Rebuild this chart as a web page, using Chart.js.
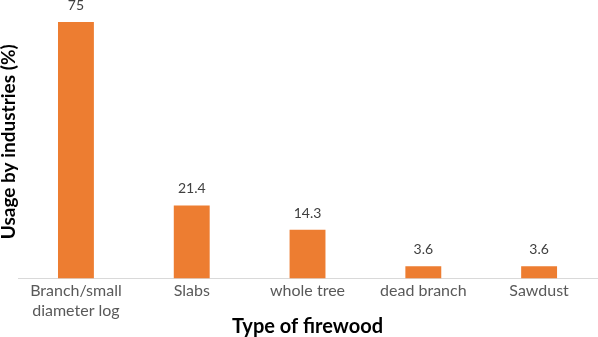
<!DOCTYPE html>
<html>
<head>
<meta charset="utf-8">
<script src="https://cdn.jsdelivr.net/npm/chart.js@4"></script>
<style>
  html, body { margin: 0; padding: 0; background: #fff; }
  #wrap { width: 598px; height: 337px; }
</style>
</head>
<body>
<div id="wrap"><canvas id="grafica"></canvas></div>
<script>
const tipos = [["Branch/small", "diameter log"], "Slabs", "whole tree", "dead branch", "Sawdust"];
const uso = [75, 21.4, 14.3, 3.6, 3.6];
const etiquetasValor = ["75", "21.4", "14.3", "3.6", "3.6"];

// dibuja el valor encima de cada barra
const valoresEncima = {
    id: "valoresEncima",
    afterDatasetsDraw(chart) {
        const ctx = chart.ctx;
        const meta = chart.getDatasetMeta(0);
        ctx.save();
        ctx.font = "14px Lato";
        ctx.fillStyle = "#404040";
        ctx.textAlign = "center";
        ctx.textBaseline = "alphabetic";
        meta.data.forEach((barra, i) => {
            ctx.fillText(etiquetasValor[i], barra.x, barra.y - 12);
        });
        ctx.restore();
    }
};

const $grafica = document.querySelector("#grafica");

new Chart($grafica, {
    type: "bar",
    data: {
        labels: tipos,
        datasets: [{
            label: "Usage by industries (%)",
            data: uso,
            backgroundColor: "#ED7D31",
            barPercentage: 0.31,
            categoryPercentage: 1
        }]
    },
    options: {
        responsive: true,
        maintainAspectRatio: false,
        animation: false,
        layout: { padding: { top: 5, right: 1, left: 0, bottom: 0 } },
        plugins: {
            legend: { display: false },
            tooltip: { enabled: false }
        },
        scales: {
            x: {
                grid: { display: false, drawTicks: false },
                border: { display: true, color: "#d9d9d9", width: 1 },
                ticks: { color: "#595959", font: { family: "Lato", size: 16, lineHeight: 1.2 }, padding: 3 },
                title: {
                    display: true,
                    text: "Type of firewood",
                    color: "#000",
                    font: { family: "Lato", size: 20, weight: "bold", lineHeight: 1 },
                    padding: { top: -6, bottom: 0 }
                }
            },
            y: {
                min: 0,
                max: 80,
                grid: { display: false, drawTicks: false },
                border: { display: false },
                ticks: { display: false },
                title: {
                    display: true,
                    text: "Usage by industries (%)",
                    color: "#000",
                    font: { family: "Lato", size: 19, weight: "bold", lineHeight: 0.95 },
                    padding: { top: 0, bottom: 0 }
                }
            }
        }
    },
    plugins: [valoresEncima]
});
</script>
</body>
</html>
